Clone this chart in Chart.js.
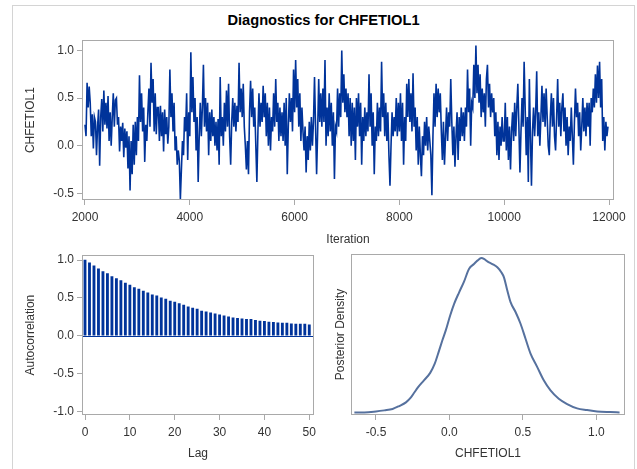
<!DOCTYPE html>
<html lang="en">
<head>
<meta charset="UTF-8">
<script src="https://cdn.jsdelivr.net/npm/chart.js"></script>
<title>Diagnostics for CHFETIOL1</title>
<style>
    body { margin: 0; background: #fff; width: 637px; height: 469px; overflow: hidden; position: relative; font-family: "Liberation Sans", Arial, sans-serif; }
    .moldura { position: absolute; left: 12px; top: 5px; width: 623px; height: 470px; border: 1px solid #d4d4d4; box-sizing: border-box; }
    .titulo { position: absolute; left: 12px; width: 623px; top: 12px; line-height: 17px; text-align: center; font-weight: bold; font-size: 14.67px; color: #000; }
    canvas { position: absolute; }
</style>
</head>
<body>
<div class="moldura"></div>
<div class="titulo">Diagnostics for CHFETIOL1</div>
<canvas id="traco" width="637" height="220" style="left:0px;top:30px"></canvas>
<canvas id="acf" width="324" height="224" style="left:0px;top:245px"></canvas>
<canvas id="dens" width="305" height="224" style="left:330px;top:245px"></canvas>
<script>
    // traco: uma leitura a cada 20 iteracoes, de 2000 ate 11980
    const iterInicio = 2000;
    const iterPasso = 20;
    const traco = [
        0.22, 0.10, 0.66, 0.40, 0.62, 0.45, 0.10, 0.33, -0.03, 0.30,
        0.25, -0.10, 0.20, 0.38, -0.21, 0.30, 0.49, 0.15, 0.58, 0.22,
        0.45, 0.18, 0.52, 0.05, 0.35, 0.00, 0.30, 0.55, 0.20, 0.48,
        0.50, 0.22, 0.30, -0.06, 0.20, 0.05, 0.24, -0.12, 0.18, -0.02,
        0.15, -0.24, 0.10, -0.47, 0.05, -0.30, 0.22, -0.20, 0.25, -0.10,
        0.30, 0.05, 0.74, 0.25, 0.55, 0.15, 0.40, -0.17, 0.22, 0.05,
        0.35, 0.60, 0.20, 0.87, 0.45, 0.70, 0.15, 0.55, 0.12, 0.40,
        0.40, 0.05, 0.42, 0.10, 0.35, -0.06, 0.38, 0.12, 0.30, 0.02,
        0.20, 0.80, 0.30, 0.55, 0.15, 0.45, -0.05, 0.10, -0.20, -0.05,
        -0.15, -0.56, -0.25, 0.05, -0.10, 0.30, 0.15, 0.55, -0.15, 0.35,
        0.10, 0.98, 0.35, 0.72, 0.25, 0.50, -0.05, 0.30, -0.38, 0.10,
        0.45, 0.10, 0.40, 0.85, 0.20, 0.50, 0.15, 0.45, -0.10, 0.35,
        0.05, 0.38, 0.10, 0.30, 0.00, 0.25, -0.05, 0.28, -0.20, 0.72,
        0.10, 0.30, 0.00, 0.45, 0.15, 0.58, 0.20, 0.65, 0.10, -0.20,
        0.25, 0.50, 0.20, 0.45, 0.15, 0.42, 0.25, 0.87, 0.35, 0.60,
        0.30, 0.65, 0.20, 0.00, -0.25, 0.05, -0.30, 0.35, 0.68, 0.30,
        0.60, 0.20, 0.40, 0.00, -0.38, 0.15, 0.55, 0.20, 0.45, 0.25,
        0.63, 0.30, 0.55, 0.10, 0.45, 0.00, 0.40, -0.05, 0.30, 0.15,
        0.55, 0.20, 0.70, 0.25, 0.45, 0.05, 0.40, 0.10, 0.35, 0.05,
        0.45, 0.00, 0.50, -0.30, 0.20, 0.55, 0.25, 0.50, 0.15, 0.80,
        0.35, 0.90, 0.40, 0.70, 0.20, 0.55, 0.05, 0.40, 0.15, -0.05,
        0.20, -0.28, 0.10, -0.15, 0.25, -0.05, 0.30, 0.00, 0.25, 0.72,
        0.20, -0.30, 0.15, 0.70, 0.25, 0.55, 0.20, 0.60, 0.25, 0.90,
        0.00, 0.40, 0.10, 0.55, 0.15, 0.45, 0.00, 0.35, -0.35, 0.20,
        0.15, 0.60, 0.20, 0.55, 0.30, 1.00, 0.45, 0.75, 0.35, 0.60,
        0.30, 0.55, 0.10, 0.50, 0.00, 0.45, 0.05, 0.40, -0.15, 0.50,
        0.20, 0.55, 0.10, 0.45, -0.20, 0.30, 0.05, 0.40, 0.10, 0.35,
        0.15, 0.75, 0.20, 0.55, 0.00, 0.35, -0.30, 0.20, 0.05, 0.45,
        0.10, 0.40, 0.15, 0.88, 0.30, 0.55, 0.10, 0.45, 0.05, 0.35,
        -0.10, -0.42, 0.00, 0.35, 0.10, 0.30, 0.15, 0.50, 0.10, 0.45,
        0.15, 0.55, 0.05, 0.45, -0.20, 0.30, 0.05, 0.65, 0.30, 0.70,
        0.25, 0.55, 0.15, 0.76, 0.20, 0.40, -0.05, 0.30, -0.20, 0.20,
        -0.10, -0.32, 0.10, -0.10, 0.25, 0.00, 0.30, -0.05, 0.20, 0.05,
        -0.10, -0.52, 0.10, 0.55, 0.20, 0.65, 0.30, 0.60, 0.35, 0.55,
        0.15, -0.15, 0.25, -0.20, 0.10, 0.40, 0.05, 0.35, 0.20, 0.70,
        0.25, -0.10, 0.20, -0.22, 0.10, 0.35, -0.15, 0.30, 0.05, 0.40,
        0.10, 0.35, 0.05, 0.40, 0.20, 0.80, 0.35, 0.60, 0.00, 0.45,
        0.40, 0.85, 0.50, 1.05, 0.55, 0.85, 0.45, 0.75, 0.30, 0.60,
        0.35, 0.55, 0.20, 0.70, 0.85, 0.40, 0.65, 0.30, 0.55, 0.35,
        0.50, 0.10, 0.35, -0.10, 0.25, -0.15, 0.20, 0.00, 0.30, 0.05,
        0.05, 0.45, -0.05, 0.30, -0.15, 0.20, -0.25, 0.15, 0.35, 0.05,
        0.45, 0.10, 0.40, 0.65, 0.20, -0.28, 0.15, 0.50, 0.20, 0.88,
        0.40, -0.10, 0.30, -0.38, 0.70, 0.10, -0.42, 0.15, 0.40, 0.10,
        0.35, 0.78, 0.10, 0.35, 0.00, 0.30, 0.63, 0.25, 0.55, 0.20,
        0.60, 0.30, 0.00, -0.10, 0.30, 0.55, 0.20, 0.50, 0.10, -0.05,
        0.30, 0.70, 0.20, 0.45, 0.10, 0.40, 0.55, 0.15, 0.40, 0.00,
        0.30, -0.10, 0.20, 0.05, 0.40, 0.10, -0.20, 0.25, 0.60, 0.30,
        0.45, 0.10, 0.35, -0.05, 0.20, 0.50, 0.15, 0.40, 0.10, 0.45,
        0.20, 0.45, 0.00, 0.50, 0.35, 0.60, 0.40, 0.75, 0.45, 0.84,
        0.50, 0.88, 0.40, 0.70, 0.05, 0.30, -0.05, 0.25, 0.10, 0.20
    ];

    // autocorrelacao, lags 0..50
    const acf = [
        1.00, 0.965, 0.925, 0.885, 0.85, 0.824, 0.784, 0.758, 0.731, 0.696,
        0.67, 0.639, 0.617, 0.59, 0.568, 0.542, 0.529, 0.502, 0.485, 0.458,
        0.445, 0.427, 0.405, 0.383, 0.366, 0.352, 0.326, 0.317, 0.304, 0.29,
        0.278, 0.264, 0.251, 0.238, 0.229, 0.225, 0.216, 0.216, 0.203, 0.194,
        0.19, 0.18, 0.176, 0.172, 0.167, 0.167, 0.159, 0.154, 0.154, 0.154,
        0.145
    ];

    // densidade a posteriori (altura relativa)
    const densX = [-0.647, -0.579, -0.500, -0.443, -0.387, -0.342, -0.296, -0.262, -0.240, -0.217,
        -0.172, -0.131, -0.100, -0.070, -0.048, -0.025, 0.005, 0.032, 0.066, 0.100,
        0.133, 0.167, 0.190, 0.217, 0.240, 0.258, 0.292, 0.326, 0.353, 0.371,
        0.394, 0.416, 0.450, 0.484, 0.518, 0.552, 0.597, 0.643, 0.688, 0.744,
        0.801, 0.869, 0.937, 1.005, 1.095, 1.158];
    const densY = [0, 0, 0.006, 0.013, 0.022, 0.041, 0.065, 0.097, 0.127, 0.159,
        0.209, 0.256, 0.316, 0.402, 0.467, 0.531, 0.628, 0.703, 0.778, 0.849,
        0.929, 0.961, 0.983, 1.000, 0.991, 0.978, 0.961, 0.940, 0.908, 0.875,
        0.789, 0.714, 0.650, 0.574, 0.477, 0.381, 0.295, 0.206, 0.142, 0.088,
        0.054, 0.026, 0.015, 0.006, 0.002, 0];

    const ticksTracoX = [2000, 4000, 6000, 8000, 10000, 12000];
    const ticksTracoY = [-0.5, 0, 0.5, 1.0];
    const ticksAcfX = [0, 10, 20, 30, 40, 50];
    const ticksAcfY = [-1.0, -0.5, 0, 0.5, 1.0];
    const ticksDensX = [-0.5, 0, 0.5, 1.0];

    const fonte = '"Liberation Sans", Arial, sans-serif';
    const azul = '#00339a';
    const cinza = '#a9a9a9';
    const um = v => Number(v).toFixed(1);
    const inteiro = v => String(v);

    // desenha o quadro em volta da area do grafico
    const quadro = {
        id: 'quadro',
        afterDraw(chart) {
            const a = chart.chartArea, ctx = chart.ctx;
            ctx.save();
            ctx.strokeStyle = cinza;
            ctx.lineWidth = 1;
            ctx.strokeRect(Math.round(a.left) + 0.5, Math.round(a.top) + 0.5,
                Math.round(a.right - a.left) - 1, Math.round(a.bottom - a.top) - 1);
            ctx.restore();
        }
    };

    const linhaZero = {
        id: 'linhaZero',
        afterDatasetsDraw(chart) {
            const a = chart.chartArea, ctx = chart.ctx;
            const y = Math.round(chart.scales.y.getPixelForValue(0)) + 0.5;
            ctx.save();
            ctx.strokeStyle = azul;
            ctx.lineWidth = 1;
            ctx.beginPath();
            ctx.moveTo(a.left, y);
            ctx.lineTo(a.right, y);
            ctx.stroke();
            ctx.restore();
        }
    };

    function escala(eixo, min, max, lista, fmt, titulo, padTitulo, tamanho) {
        return {
            type: 'linear',
            min: min,
            max: max,
            offset: false,
            afterBuildTicks: s => { s.ticks = lista.map(v => ({ value: v })); },
            afterFit: s => { if (eixo === 'x') s.height = tamanho; else s.width = tamanho; },
            grid: { display: lista.length > 0, offset: false, drawOnChartArea: false, drawTicks: true, tickLength: 5, color: cinza },
            border: { display: false },
            ticks: {
                display: lista.length > 0,
                color: '#333', font: { family: fonte, size: 12 },
                padding: eixo === 'x' ? 5 : 3,
                maxRotation: 0, autoSkip: false,
                callback: fmt
            },
            title: { display: true, text: titulo, color: '#333', font: { family: fonte, size: 12 }, padding: padTitulo }
        };
    }

    function opcoes(direita, x, y) {
        return {
            responsive: false,
            animation: false,
            layout: { padding: { top: 9, right: direita, left: 0, bottom: 0 } },
            plugins: { legend: { display: false }, tooltip: { enabled: false } },
            scales: { x: x, y: y }
        };
    }

    new Chart(document.getElementById('traco'), {
        type: 'line',
        data: {
            datasets: [{
                data: traco.map((v, i) => ({ x: iterInicio + i * iterPasso, y: v })),
                borderColor: azul, borderWidth: 1.6, pointRadius: 0, tension: 0, fill: false
            }]
        },
        options: opcoes(23,
            escala('x', 1943, 12095, ticksTracoX, inteiro, 'Iteration', { bottom: 3, top: 0 }, 50),
            escala('y', -0.57, 1.107, ticksTracoY, um, 'CHFETIOL1', { top: 23, bottom: 0 }, 82)),
        plugins: [quadro]
    });

    new Chart(document.getElementById('acf'), {
        type: 'bar',
        data: {
            datasets: [{
                data: acf.map((v, i) => ({ x: i, y: v })),
                backgroundColor: azul, barThickness: 2.2
            }]
        },
        options: opcoes(10,
            escala('x', -0.67, 51.05, ticksAcfX, inteiro, 'Lag', { bottom: 8, top: 0 }, 54),
            escala('y', -1.049, 1.066, ticksAcfY, um, 'Autocorrelation', { top: 23, bottom: 0 }, 82)),
        plugins: [linhaZero, quadro]
    });

    new Chart(document.getElementById('dens'), {
        type: 'line',
        data: {
            datasets: [{
                data: densX.map((x, i) => ({ x: x, y: densY[i] })),
                borderColor: '#56719e', borderWidth: 2, pointRadius: 0,
                cubicInterpolationMode: 'monotone', fill: false
            }]
        },
        options: opcoes(10,
            escala('x', -0.67, 1.195, ticksDensX, um, 'CHFETIOL1', { bottom: 8, top: 0 }, 54),
            escala('y', -0.017, 1.026, [], um, 'Posterior Density', { top: 3, bottom: 0 }, 21)),
        plugins: [quadro]
    });
</script>
</body>
</html>
